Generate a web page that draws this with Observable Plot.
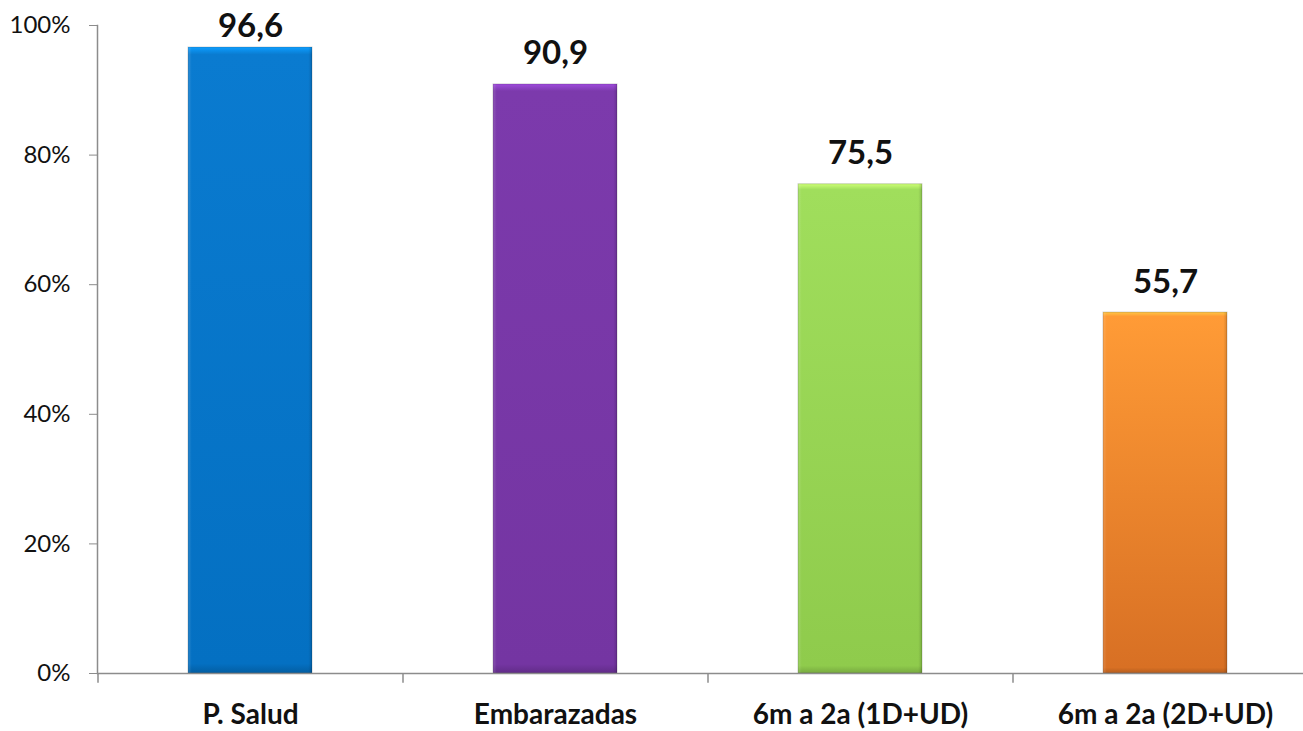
<!DOCTYPE html>
<html><head><meta charset="utf-8">
<script src="https://cdn.jsdelivr.net/npm/d3@7"></script>
<script src="https://cdn.jsdelivr.net/npm/@observablehq/plot@0.6"></script>
<style>body{margin:0;background:#fff}</style>
</head><body><div id="chart"></div>
<script>
const categories = ["P. Salud", "Embarazadas", "6m a 2a (1D+UD)", "6m a 2a (2D+UD)"];
const values = [96.6, 90.9, 75.5, 55.7];
const yTicks = [0, 20, 40, 60, 80, 100];
const topColors = ["#0A7BD0", "#7C3AAC", "#A0DE5C", "#FF9B36"];
const bottomColors = ["#0470C2", "#7435A2", "#8FCB4C", "#D87024"];

const data = categories.map((c, i) => ({category: c, value: values[i], id: "g" + i}));
const fmt = v => v.toFixed(1).replace(".", ",");
const axisGray = "#8c8c8c";
// labels that would run past the top of the plot area are tucked closer to the bar (as in the source chart)
const nearTop = d => d.value > 95;

const labelStyle = {x: "category", y: "value", text: d => fmt(d.value), lineAnchor: "bottom", fontSize: 33, fontWeight: "bold", fill: "#111"};

const chart = Plot.plot({
  width: 1303,
  height: 731,
  marginTop: 25,
  marginBottom: 58,
  marginLeft: 97,
  marginRight: 0,
  style: {fontFamily: "Lato, 'Open Sans', sans-serif", background: "#fff"},
  x: {domain: categories, range: [97, 1317], paddingInner: 0.595, paddingOuter: 0.2975, label: null},
  y: {domain: [0, 100], label: null},
  color: {type: "identity"},
  marks: [
    Plot.barY(data, {x: "category", y: "value", fill: d => `url(#${d.id})`}),
    Plot.barY(data, {x: "category", y: "value", fill: "url(#hbevel)"}),
    Plot.barY(data, {x: "category", y: "value", fill: "none", stroke: "rgba(0,0,0,0.18)", strokeWidth: 1}),
    Plot.ruleY([0], {stroke: axisGray, strokeWidth: 1.5}),
    Plot.frame({anchor: "left", stroke: axisGray, strokeWidth: 1.5}),
    Plot.ruleX(categories, {x: d => d, dx: -152.5, y1: 0, y2: -1.5, stroke: axisGray, strokeWidth: 1.5}),
    Plot.axisY({ticks: yTicks, tickFormat: d => d + "%", tickSize: 8, tickPadding: 19, fontSize: 24, stroke: axisGray, fill: "#111"}),
    Plot.axisX({tickSize: 0, tickPadding: 31, fontSize: 28, fontWeight: "bold", fill: "#111"}),
    Plot.text(data.filter(d => !nearTop(d)), {...labelStyle, dy: -20}),
    Plot.text(data.filter(nearTop), {...labelStyle, dy: -11})
  ]
});

const svg = d3.select(chart);
const defs = svg.insert("defs", ":first-child");
data.forEach((d, i) => {
  const g = defs.append("linearGradient").attr("id", d.id).attr("x1", 0).attr("y1", 0).attr("x2", 0).attr("y2", 1);
  const top = d3.color(topColors[i]).brighter(0.7).formatHex();
  const bot = d3.color(bottomColors[i]).darker(0.5).formatHex();
  g.append("stop").attr("offset", 0).attr("stop-color", top);
  g.append("stop").attr("offset", 0.012).attr("stop-color", topColors[i]);
  g.append("stop").attr("offset", 0.985).attr("stop-color", bottomColors[i]);
  g.append("stop").attr("offset", 1).attr("stop-color", bot);
});
const h = defs.append("linearGradient").attr("id", "hbevel").attr("x1", 0).attr("y1", 0).attr("x2", 1).attr("y2", 0);
h.append("stop").attr("offset", 0).attr("stop-color", "rgba(255,255,255,0.15)");
h.append("stop").attr("offset", 0.03).attr("stop-color", "rgba(255,255,255,0)");
h.append("stop").attr("offset", 0.97).attr("stop-color", "rgba(0,0,0,0)");
h.append("stop").attr("offset", 1).attr("stop-color", "rgba(0,0,0,0.15)");

document.getElementById("chart").appendChild(chart);
</script>
</body></html>
